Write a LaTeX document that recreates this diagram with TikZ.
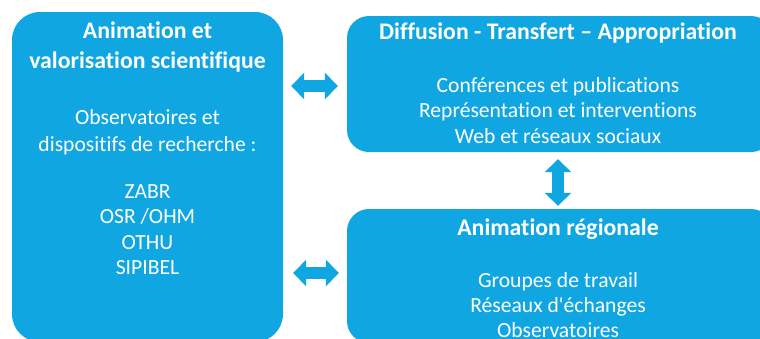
\documentclass[tikz,border=0pt]{standalone}
\usepackage{fontspec}
\setmainfont{Carlito}[Ligatures=NoCommon]
\usetikzlibrary{arrows.meta,positioning}

\definecolor{bleubloc}{RGB}{16,166,226}
\tikzset{
  bloc/.style={fill=bleubloc, draw=none, rounded corners=22pt, inner sep=0pt},
  titre/.style={text=white, font=\fontsize{23.8}{30}\selectfont\bfseries, align=center},
  corps/.style={text=white, font=\fontsize{21.6}{25.3}\selectfont, align=center},
  fleche/.style={draw=bleubloc, line width=12pt,
    {Triangle[width=26pt,length=13pt]}-{Triangle[width=26pt,length=13pt]}}
}

\begin{document}
\begin{tikzpicture}[x=1pt,y=-1pt]
\useasboundingbox (0,0) rectangle (760,338);

% blocs
\node[bloc, rounded corners=28pt, minimum width=271pt, minimum height=330pt] (valo) at (147.5,177) {};
\node[bloc, minimum width=426pt, minimum height=136pt] (diff) at (560,84) {};
\node[bloc, minimum width=426pt, minimum height=134pt] (region) at (560,276) {};

% textes
\node[titre] (valoT) at (147.5,47) {Animation et\\valorisation scientifique};
\node[corps, font=\fontsize{21.6}{26.5}\selectfont] (valoB) at (147.5,132) {Observatoires et\\dispositifs de recherche :};
\node[corps] (valoL) at (147.5,229.5) {ZABR\\OSR /OHM\\OTHU\\SIPIBEL};

\node[titre] (diffT) at (558,33.5) {Diffusion - Transfert – Appropriation};
\node[corps] (diffB) at (558,110.5) {Conférences et publications\\Représentation et interventions\\Web et réseaux sociaux};

\node[titre] (regionT) at (558,229) {Animation régionale};
\node[corps] (regionB) at (558,305) {Groupes de travail\\Réseaux d\textquotesingle échanges\\Observatoires};

% fleches
\draw[fleche, shorten <=8pt, shorten >=9pt] ([yshift=-2pt]diff.west -| valo.east) -- ([yshift=-2pt]diff.west);
\draw[fleche, shorten <=10pt, shorten >=8pt] ([yshift=3pt]region.west -| valo.east) -- ([yshift=3pt]region.west);
\draw[fleche, shorten <=7pt, shorten >=3pt] ([xshift=-2pt]diff.south) -- ([xshift=-2pt]region.north);
\end{tikzpicture}
\end{document}
